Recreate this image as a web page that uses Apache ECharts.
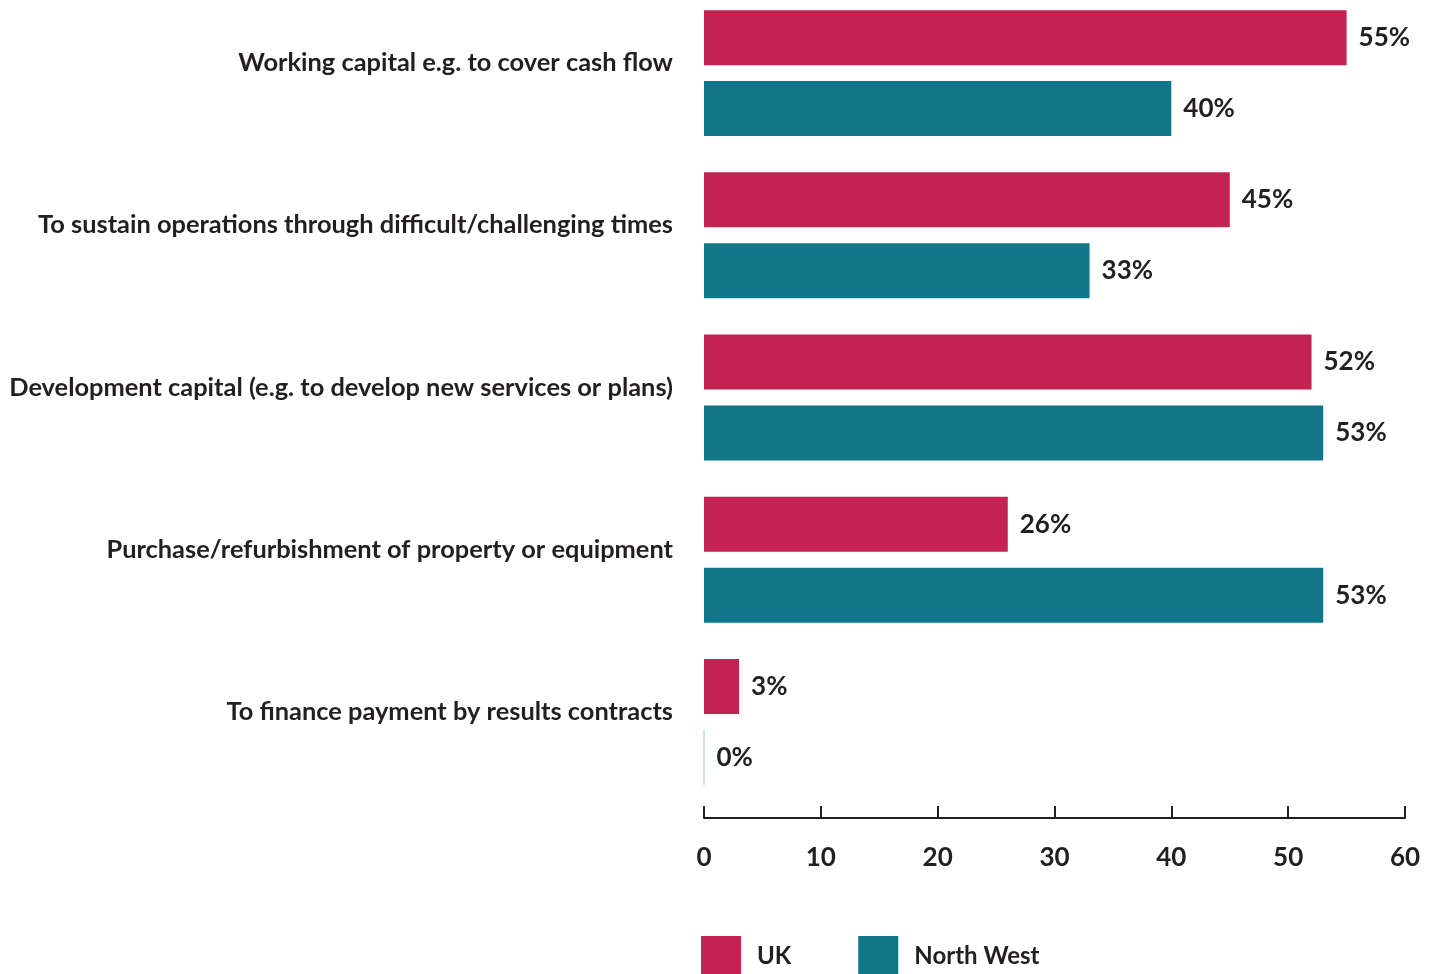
<!DOCTYPE html>
<html>
<head>
<meta charset="utf-8">
<style>
  html, body { margin: 0; padding: 0; background: #ffffff; overflow: hidden; }
  #chart { width: 1437px; height: 982px; margin-top: -8px; }
</style>
<script src="https://cdn.jsdelivr.net/npm/echarts@6/dist/echarts.min.js"></script>
</head>
<body>
<div id="chart"></div>
<script>
// Reasons for seeking finance: UK vs North West (percentage of respondents)
const categories = [
  'Working capital e.g. to cover cash flow',
  'To sustain operations through difficult/challenging times',
  'Development capital (e.g. to develop new services or plans)',
  'Purchase/refurbishment of property or equipment',
  'To finance payment by results contracts'
];
const ukValues = [55, 45, 52, 26, 3];
const northWestValues = [40, 33, 53, 53, 0];
const axisTicks = [0, 10, 20, 30, 40, 50, 60];

const UK_COLOR = '#c42351';
const NW_COLOR = '#10778a';
const TEXT = '#231f20';
const FONT = 'Lato, "Source Sans Pro", "Open Sans", sans-serif';

const chart = echarts.init(document.getElementById('chart'));

const barLabel = {
  show: true,
  position: 'right',
  distance: 12,
  formatter: p => p.value + '%',
  color: TEXT,
  fontFamily: FONT,
  fontWeight: 'bold',
  fontSize: 26
};

chart.setOption({
  backgroundColor: '#ffffff',
  animation: false,
  textStyle: { fontFamily: FONT },
  grid: { left: 704, right: 32, top: 0, bottom: 171, containLabel: false },
  legend: {
    left: 696,
    top: 939,
    itemWidth: 40,
    itemHeight: 40,
    itemGap: 67,
    icon: 'rect',
    textStyle: { color: TEXT, fontFamily: FONT, fontWeight: 'bold', fontSize: 24, padding: [4, 0, 0, 11] },
    data: ['UK', 'North West']
  },
  xAxis: {
    type: 'value',
    min: axisTicks[0],
    max: axisTicks[axisTicks.length - 1],
    interval: axisTicks[1] - axisTicks[0],
    offset: 15,
    splitLine: { show: false },
    axisLine: { show: true, lineStyle: { color: TEXT, width: 2 } },
    axisTick: { show: true, inside: true, length: 12, lineStyle: { color: TEXT, width: 2 } },
    axisLabel: { color: TEXT, fontFamily: FONT, fontWeight: 'bold', fontSize: 26, margin: 27 }
  },
  yAxis: {
    type: 'category',
    inverse: true,
    data: categories,
    axisLine: { show: false },
    axisTick: { show: false },
    axisLabel: {
      color: TEXT,
      fontFamily: FONT,
      fontWeight: 'bold',
      fontSize: 25.4,
      margin: 31,
      verticalAlign: 'bottom',
      lineHeight: 20
    }
  },
  series: [
    {
      name: 'UK',
      type: 'bar',
      data: ukValues,
      barWidth: 55,
      barGap: '29%',
      itemStyle: { color: UK_COLOR },
      label: barLabel
    },
    {
      name: 'North West',
      type: 'bar',
      data: northWestValues.map(v => v === 0
        ? { value: v, itemStyle: { borderColor: '#b5dde4', borderWidth: 1 } }
        : v),
      barWidth: 55,
      itemStyle: { color: NW_COLOR },
      label: barLabel
    }
  ]
});
</script>
</body>
</html>
